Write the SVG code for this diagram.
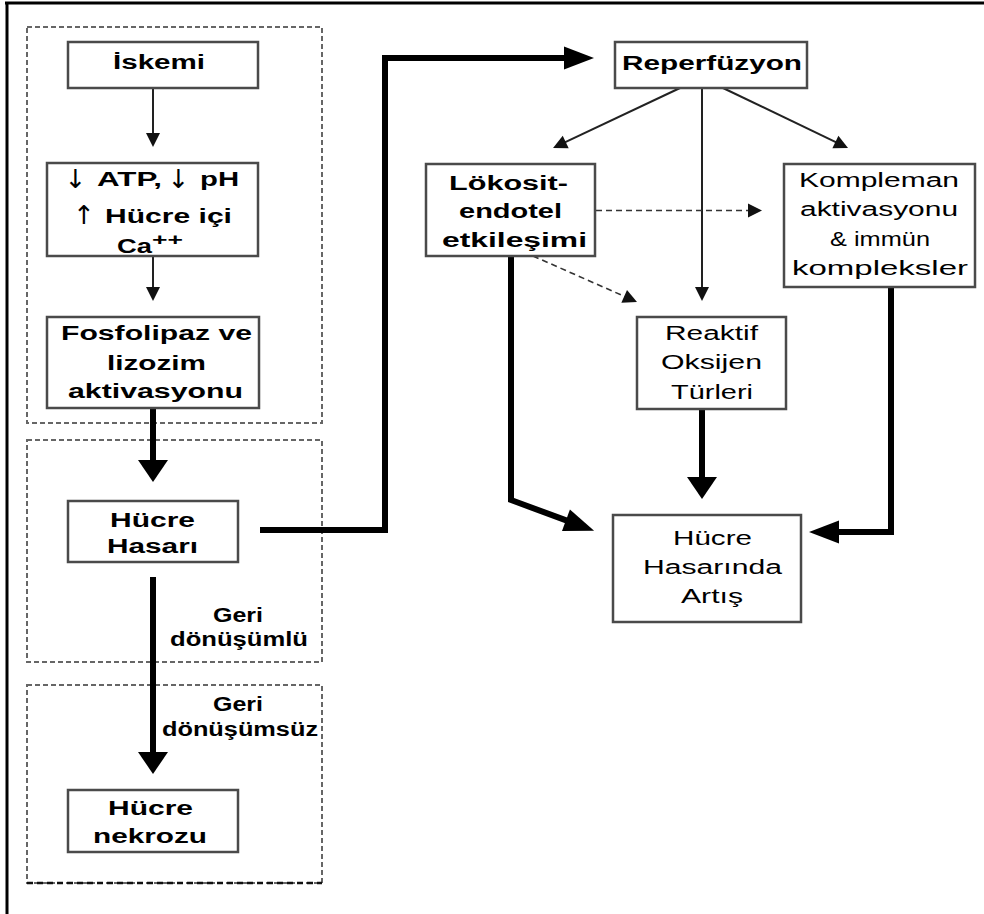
<svg xmlns="http://www.w3.org/2000/svg" width="984" height="914" viewBox="0 0 984 914">
<style>
  .frame{stroke:#000;stroke-width:3;fill:none}
  .zone{fill:none;stroke:#666;stroke-width:2;stroke-dasharray:5,3}
  .box{fill:#fff;stroke:#4a4a4a;stroke-width:2.5}
  .thin{fill:none;stroke:#222;stroke-width:2}
  .dash{fill:none;stroke:#333;stroke-width:1.6;stroke-dasharray:6,4}
  .thick{fill:none;stroke:#000;stroke-width:6;stroke-linejoin:miter}
  text{font-family:"Liberation Sans","DejaVu Sans",Arial,sans-serif;font-size:21px;fill:#000;text-anchor:middle}
  .b{font-weight:bold}
  .st{text-anchor:start}
  .arw{font-family:"DejaVu Sans","Liberation Sans",sans-serif;font-size:26px;font-weight:normal}
</style>
<defs>
  <marker id="mThin" markerUnits="userSpaceOnUse" markerWidth="15" markerHeight="16" refX="1" refY="8" orient="auto" overflow="visible">
    <path d="M0,1 L14,8 L0,15 Z" fill="#111"/>
  </marker>
  <marker id="mThickV" markerUnits="userSpaceOnUse" markerWidth="23" markerHeight="30" refX="1" refY="15" orient="auto" overflow="visible">
    <path d="M0,0 L22,15 L0,30 Z" fill="#000"/>
  </marker>
  <marker id="mThickH" markerUnits="userSpaceOnUse" markerWidth="31" markerHeight="23" refX="1" refY="11.5" orient="auto" overflow="visible">
    <path d="M0,0 L30,11.5 L0,23 Z" fill="#000"/>
  </marker>
</defs>
<rect width="984" height="914" fill="#fff"/>
<g id="frame">
  <line class="frame" x1="5" y1="3" x2="984" y2="3"/>
  <line class="frame" x1="7" y1="2" x2="7" y2="914"/>
</g>
<g id="zones">
  <rect class="zone" x="27" y="27" width="295" height="396"/>
  <rect class="zone" x="27" y="440" width="295" height="222"/>
  <rect class="zone" x="27" y="685" width="295" height="198"/>
  <line x1="27" y1="883" x2="322" y2="883" stroke="#111" stroke-width="2.5" stroke-dasharray="6,4"/>
</g>
<g id="connectors">
  <line class="thin" x1="153" y1="88" x2="153" y2="134" marker-end="url(#mThin)"/>
  <line class="thin" x1="153" y1="256" x2="153" y2="288" marker-end="url(#mThin)"/>
  <line class="thick" x1="153" y1="408" x2="153" y2="461" marker-end="url(#mThickV)"/>
  <line class="thick" x1="153" y1="577" x2="153" y2="753" marker-end="url(#mThickV)"/>
  <polyline class="thick" points="260,530 385,530 385,58 565,58" marker-end="url(#mThickH)"/>
  <line class="thin" x1="680" y1="88" x2="564.8" y2="142.4" marker-end="url(#mThin)"/>
  <line class="thin" x1="702" y1="88" x2="702" y2="288" marker-end="url(#mThin)"/>
  <line class="thin" x1="723" y1="88" x2="836.3" y2="142.4" marker-end="url(#mThin)"/>
  <line class="dash" x1="596" y1="210.5" x2="749" y2="210.5" marker-end="url(#mThin)"/>
  <line class="dash" x1="533" y1="256" x2="625.1" y2="296.7" marker-end="url(#mThin)"/>
  <polyline class="thick" points="511,256 511,500 566.9,520.6" marker-end="url(#mThickH)"/>
  <line class="thick" x1="702" y1="409" x2="702" y2="478" marker-end="url(#mThickV)"/>
  <polyline class="thick" points="891,287 891,532 838,532" marker-end="url(#mThickH)"/>
</g>
<g id="label-geri1">
  <text class="b" transform="translate(238,622) scale(1.42,1)" textLength="35.2" lengthAdjust="spacingAndGlyphs">Geri</text>
  <text class="b" transform="translate(239,646) scale(1.42,1)" textLength="97.2" lengthAdjust="spacingAndGlyphs">dönüşümlü</text>
</g>
<g id="label-geri2">
  <text class="b" transform="translate(238,711) scale(1.42,1)" textLength="35.2" lengthAdjust="spacingAndGlyphs">Geri</text>
  <text class="b" transform="translate(240,736) scale(1.42,1)" textLength="109.9" lengthAdjust="spacingAndGlyphs">dönüşümsüz</text>
</g>
<g id="iskemi">
  <rect class="box" x="68" y="42" width="190" height="46"/>
  <text class="b" transform="translate(159,69) scale(1.42,1)" textLength="64.8" lengthAdjust="spacingAndGlyphs">İskemi</text>
</g>
<g id="atp">
  <rect class="box" x="47" y="163" width="211" height="93"/>
  <text class="arw" x="75.5" y="188">↓</text>
  <text class="b st" transform="translate(97,186) scale(1.42,1)" textLength="45.8" lengthAdjust="spacingAndGlyphs">ATP,</text>
  <text class="arw" x="178.5" y="188">↓</text>
  <text class="b st" transform="translate(200,186) scale(1.42,1)" textLength="27.5" lengthAdjust="spacingAndGlyphs">pH</text>
  <text class="arw" x="84" y="224">↑</text>
  <text class="b st" transform="translate(105,223) scale(1.42,1)" textLength="89.4" lengthAdjust="spacingAndGlyphs">Hücre içi</text>
  <text class="b" transform="translate(134.5,253) scale(1.42,1)" textLength="24.6" lengthAdjust="spacingAndGlyphs">Ca</text>
  <text class="b" transform="translate(167.5,245) scale(1.42,1)" textLength="21.8" lengthAdjust="spacingAndGlyphs" style="font-size:17px">++</text>
</g>
<g id="fosfolipaz">
  <rect class="box" x="47" y="317" width="212" height="91"/>
  <text class="b" transform="translate(156.5,340) scale(1.42,1)" textLength="134.5" lengthAdjust="spacingAndGlyphs">Fosfolipaz ve</text>
  <text class="b" transform="translate(156.5,370) scale(1.42,1)" textLength="69.7" lengthAdjust="spacingAndGlyphs">lizozim</text>
  <text class="b" transform="translate(155.5,398) scale(1.42,1)" textLength="123.2" lengthAdjust="spacingAndGlyphs">aktivasyonu</text>
</g>
<g id="hucre-hasari">
  <rect class="box" x="68" y="501" width="170" height="61"/>
  <text class="b" transform="translate(152.5,527) scale(1.42,1)" textLength="59.9" lengthAdjust="spacingAndGlyphs">Hücre</text>
  <text class="b" transform="translate(152.5,553) scale(1.42,1)" textLength="64.1" lengthAdjust="spacingAndGlyphs">Hasarı</text>
</g>
<g id="hucre-nekrozu">
  <rect class="box" x="68" y="790" width="170" height="62"/>
  <text class="b" transform="translate(150.5,815) scale(1.42,1)" textLength="59.9" lengthAdjust="spacingAndGlyphs">Hücre</text>
  <text class="b" transform="translate(150,843) scale(1.42,1)" textLength="80.3" lengthAdjust="spacingAndGlyphs">nekrozu</text>
</g>
<g id="reperfuzyon">
  <rect class="box" x="615" y="42" width="192" height="46"/>
  <text class="b" transform="translate(712,70) scale(1.42,1)" textLength="126.8" lengthAdjust="spacingAndGlyphs">Reperfüzyon</text>
</g>
<g id="lokosit">
  <rect class="box" x="426" y="164" width="169" height="92"/>
  <text class="b" transform="translate(508.5,190) scale(1.42,1)" textLength="83.8" lengthAdjust="spacingAndGlyphs">Lökosit-</text>
  <text class="b" transform="translate(510.5,218) scale(1.42,1)" textLength="72.5" lengthAdjust="spacingAndGlyphs">endotel</text>
  <text class="b" transform="translate(514.5,247) scale(1.42,1)" textLength="102.1" lengthAdjust="spacingAndGlyphs">etkileşimi</text>
</g>
<g id="kompleman">
  <rect class="box" x="784" y="164" width="191" height="123"/>
  <text transform="translate(879,187) scale(1.42,1)" textLength="112.7" lengthAdjust="spacingAndGlyphs">Kompleman</text>
  <text transform="translate(879,216) scale(1.42,1)" textLength="111.3" lengthAdjust="spacingAndGlyphs">aktivasyonu</text>
  <text transform="translate(880,246) scale(1.42,1)" textLength="70.4" lengthAdjust="spacingAndGlyphs">&amp; immün</text>
  <text transform="translate(880,275) scale(1.42,1)" textLength="123.9" lengthAdjust="spacingAndGlyphs">kompleksler</text>
</g>
<g id="reaktif">
  <rect class="box" x="637" y="317" width="149" height="92"/>
  <text transform="translate(711.5,340) scale(1.42,1)" textLength="65.5" lengthAdjust="spacingAndGlyphs">Reaktif</text>
  <text transform="translate(711.5,369) scale(1.42,1)" textLength="71.1" lengthAdjust="spacingAndGlyphs">Oksijen</text>
  <text transform="translate(712,399) scale(1.42,1)" textLength="57.7" lengthAdjust="spacingAndGlyphs">Türleri</text>
</g>
<g id="hucre-hasarinda">
  <rect class="box" x="613" y="515" width="188" height="107"/>
  <text transform="translate(712.5,545) scale(1.42,1)" textLength="55.6" lengthAdjust="spacingAndGlyphs">Hücre</text>
  <text transform="translate(712.5,574) scale(1.42,1)" textLength="97.9" lengthAdjust="spacingAndGlyphs">Hasarında</text>
  <text transform="translate(712,603) scale(1.42,1)" textLength="43.7" lengthAdjust="spacingAndGlyphs">Artış</text>
</g>
</svg>
